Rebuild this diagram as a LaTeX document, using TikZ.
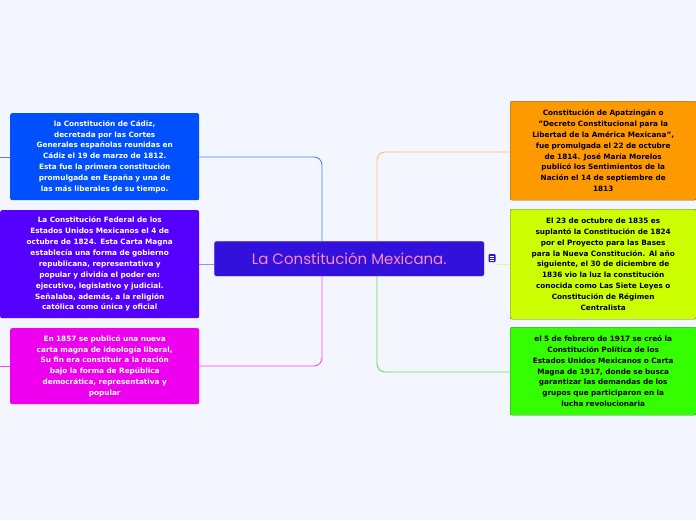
\documentclass[tikz,border=0pt]{standalone}
\usepackage{fontspec}
\setmainfont{DejaVu Sans}
\newfontfamily\titlefont{Poppins}
\begin{document}
\begin{tikzpicture}[x=1pt,y=-1pt,
 box/.style={rounded corners=2pt,align=center,font=\bfseries\fontsize{7.3}{10.9}\selectfont,inner sep=0pt,anchor=north west},
 conn/.style={line width=0.9pt,rounded corners=8pt}]
\definecolor{bg}{HTML}{F3F6FF}
\definecolor{cblue}{HTML}{0050FF}
\definecolor{cpurp}{HTML}{5500FF}
\definecolor{cmag}{HTML}{EE00EE}
\definecolor{corg}{HTML}{FF9900}
\definecolor{cyel}{HTML}{CCFF00}
\definecolor{cgrn}{HTML}{33FF00}
\definecolor{ccen}{HTML}{3311DD}
\definecolor{cpink}{HTML}{FF88CC}
\fill[bg] (0,0) rectangle (696,520);
\useasboundingbox (0,0) rectangle (696,520);
% boxes
\node[box,fill=cblue,text=white,minimum width=189pt,minimum height=87pt,text width=185pt] (l1) at (10,113) {la Constitución de Cádiz,\\decretada por las Cortes\\Generales españolas reunidas en\\Cádiz el 19 de marzo de 1812.\\Esta fue la primera constitución\\promulgada en España y una de\\las más liberales de su tiempo.};
\node[box,fill=cpurp,text=white,minimum width=199pt,minimum height=108pt,text width=195pt] (l2) at (0,210) {La Constitución Federal de los\\Estados Unidos Mexicanos el 4 de\\octubre de 1824. Esta Carta Magna\\establecía una forma de gobierno\\republicana, representativa y\\popular y dividía el poder en:\\ejecutivo, legislativo y judicial.\\Señalaba, además, a la religión\\católica como única y oficial};
\node[box,fill=cmag,text=white,minimum width=189pt,minimum height=76pt,text width=185pt] (l3) at (10,328) {En 1857 se publicó una nueva\\carta magna de ideología liberal,\\Su fin era constituir a la nación\\bajo la forma de República\\democrática, representativa y\\popular};
\node[box,fill=corg,draw=black!60,text=black,minimum width=186pt,minimum height=99pt,text width=182pt] (r1) at (510,101) {Constitución de Apatzingán o\\"Decreto Constitucional para la\\Libertad de la América Mexicana”,\\fue promulgada el 22 de octubre\\de 1814. José María Morelos\\publicó los Sentimientos de la\\Nación el 14 de septiembre de\\1813};
\node[box,fill=cyel,draw=black!60,text=black,minimum width=186pt,minimum height=110pt,text width=182pt] (r2) at (510,209) {El 23 de octubre de 1835 es\\suplantó la Constitución de 1824\\por el Proyecto para las Bases\\para la Nueva Constitución. Al año\\siguiente, el 30 de diciembre de\\1836 vio la luz la constitución\\conocida como Las Siete Leyes o\\Constitución de Régimen\\Centralista};
\node[box,fill=cgrn,draw=black!60,text=black,minimum width=186pt,minimum height=88pt,text width=182pt] (r3) at (510,327) {el 5 de febrero de 1917 se creó la\\Constitución Política de los\\Estados Unidos Mexicanos o Carta\\Magna de 1917, donde se busca\\garantizar las demandas de los\\grupos que participaron en la\\lucha revolucionaria};
\node[box,fill=ccen,draw=white!70!ccen,text=cpink,minimum width=270pt,minimum height=35pt,font=\titlefont\fontsize{15}{18}\selectfont] (c) at (214,241) {La Constitución Mexicana.};
\node[fill=ccen,rounded corners=1pt,minimum width=7pt,minimum height=8pt,inner sep=0pt] (ic) at (492,258) {};
\foreach \yy in {-2,0,2} \draw[white,line width=0.5pt] ([xshift=-2pt,yshift=\yy pt]ic.center) -- ([xshift=2pt,yshift=\yy pt]ic.center);
% connectors
\draw[conn,color=cblue!70] (l1.east|-0,157) -| (322,241);
\draw[conn,color=cmag!70] (322,276) |- (l3.east|-0,366);
\draw[conn,color=cpurp!50] (l2.east|-0,264) -- (c.west|-0,264);
\draw[conn,color=corg!60] (r1.west|-0,152) -| (377,241);
\draw[conn,color=cgrn!80!black!70] (377,276) |- (r3.west|-0,372);
\draw[conn,color=cyel!60] (ic.east|-0,264) -- (r2.west|-0,264);
\draw[line width=0.9pt,color=cblue!70] (0,157) -- (l1.west|-0,157);
\draw[line width=0.9pt,color=cmag!70] (0,366) -- (l3.west|-0,366);
\end{tikzpicture}
\end{document}
